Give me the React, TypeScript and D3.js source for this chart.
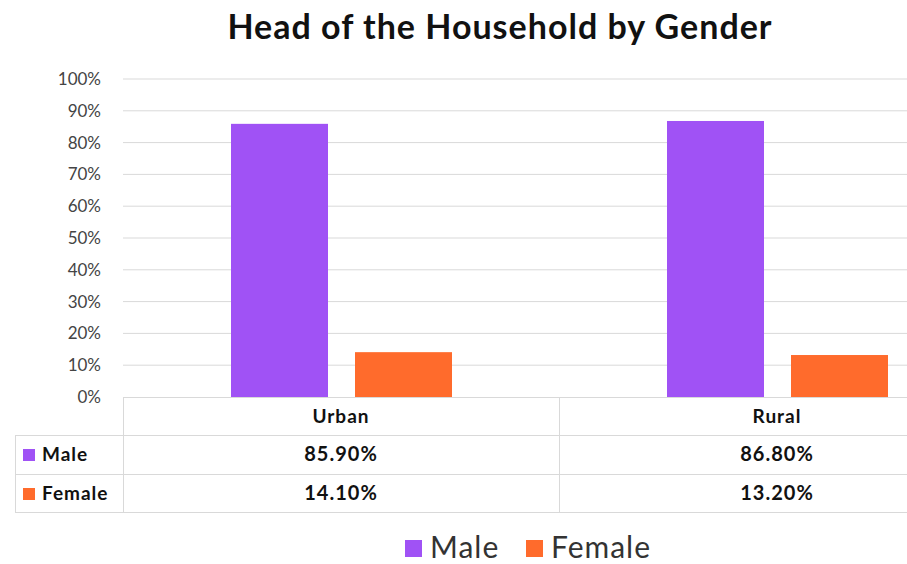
import React from "react";
import * as d3 from "d3";

const categories = ["Urban", "Rural"];
const seriesNames = ["Male", "Female"];
const maleValues = [85.9, 86.8];
const femaleValues = [14.1, 13.2];
const tickValues = [0, 10, 20, 30, 40, 50, 60, 70, 80, 90, 100];
const title = "Head of the Household by Gender";

const colors = ["#A052F5", "#FF6B2C"];
const FONT = "Lato, 'Open Sans', sans-serif";

export default function App() {
  const W = 907, H = 564;
  const plotLeft = 123, plotTop = 79, plotBottom = 397;
  const bandW = 436;
  const x = d3.scaleBand<string>().domain(categories).range([plotLeft, plotLeft + bandW * categories.length]).paddingInner(0).paddingOuter(0);
  const y = d3.scaleLinear().domain([0, 100]).range([plotBottom, plotTop]);
  const sub = d3.scaleBand<string>().domain(seriesNames).range([108, 108 + 97 * 2 + 27]).paddingInner(27 / 124);
  const series = [maleValues, femaleValues];
  const rowY = [plotBottom, 435, 474, 512];
  const lineColor = "#d9d9d9";
  const tableLeft = 15;

  return (
    <svg width={W} height={H} style={{ position: "absolute", left: 0, top: 0, background: "#fff" }}>
      <text x={500} y={39} textAnchor="middle" fontFamily={FONT} fontWeight={700} fontSize={34} letterSpacing={1} fill="#111">{title}</text>
      {tickValues.map((t) => (
        <g key={t}>
          {t > 0 && <line x1={plotLeft} x2={W} y1={y(t)} y2={y(t)} stroke={lineColor} strokeWidth={1} />}
          <text x={101} y={y(t) + 6} textAnchor="end" fontFamily={FONT} fontSize={17} fill="#444">{t}%</text>
        </g>
      ))}
      {categories.map((c, ci) => (
        <g key={c}>
          {seriesNames.map((s, si) => (
            <rect key={s} x={(x(c) as number) + (sub(s) as number)} width={sub.bandwidth()} y={y(series[si][ci])} height={plotBottom - y(series[si][ci])} fill={colors[si]} />
          ))}
        </g>
      ))}
      {/* data table */}
      <line x1={plotLeft} x2={W} y1={rowY[0] + 0.5} y2={rowY[0] + 0.5} stroke={lineColor} />
      {rowY.slice(1).map((ry, i) => (
        <line key={i} x1={tableLeft} x2={W} y1={ry + 0.5} y2={ry + 0.5} stroke={lineColor} />
      ))}
      <line x1={tableLeft + 0.5} x2={tableLeft + 0.5} y1={rowY[1]} y2={rowY[3]} stroke={lineColor} />
      {categories.map((c) => (
        <line key={c} x1={(x(c) as number) + 0.5} x2={(x(c) as number) + 0.5} y1={rowY[0]} y2={rowY[3]} stroke={lineColor} />
      ))}
      {categories.map((c) => (
        <text key={c} x={(x(c) as number) + x.bandwidth() / 2} y={423} textAnchor="middle" fontFamily={FONT} fontWeight={700} fontSize={19} letterSpacing={1} fill="#111">{c}</text>
      ))}
      {seriesNames.map((s, si) => (
        <g key={s}>
          <rect x={23} y={rowY[si + 1] + 14} width={12} height={12} fill={colors[si]} />
          <text x={42} y={rowY[si + 1] + 26} fontFamily={FONT} fontWeight={700} fontSize={19} letterSpacing={1} fill="#111">{s}</text>
          {categories.map((c, ci) => (
            <text key={c} x={(x(c) as number) + x.bandwidth() / 2} y={rowY[si + 1] + 26} textAnchor="middle" fontFamily={FONT} fontWeight={700} fontSize={20} letterSpacing={1} fill="#111">{series[si][ci].toFixed(2)}%</text>
          ))}
        </g>
      ))}
      {/* legend */}
      <rect x={405} y={540} width={17} height={17} fill={colors[0]} />
      <text x={430} y={558} fontFamily={FONT} fontSize={30} letterSpacing={1} fill="#333">{seriesNames[0]}</text>
      <rect x={526} y={540} width={17} height={17} fill={colors[1]} />
      <text x={551} y={558} fontFamily={FONT} fontSize={30} letterSpacing={1} fill="#333">{seriesNames[1]}</text>
    </svg>
  );
}
